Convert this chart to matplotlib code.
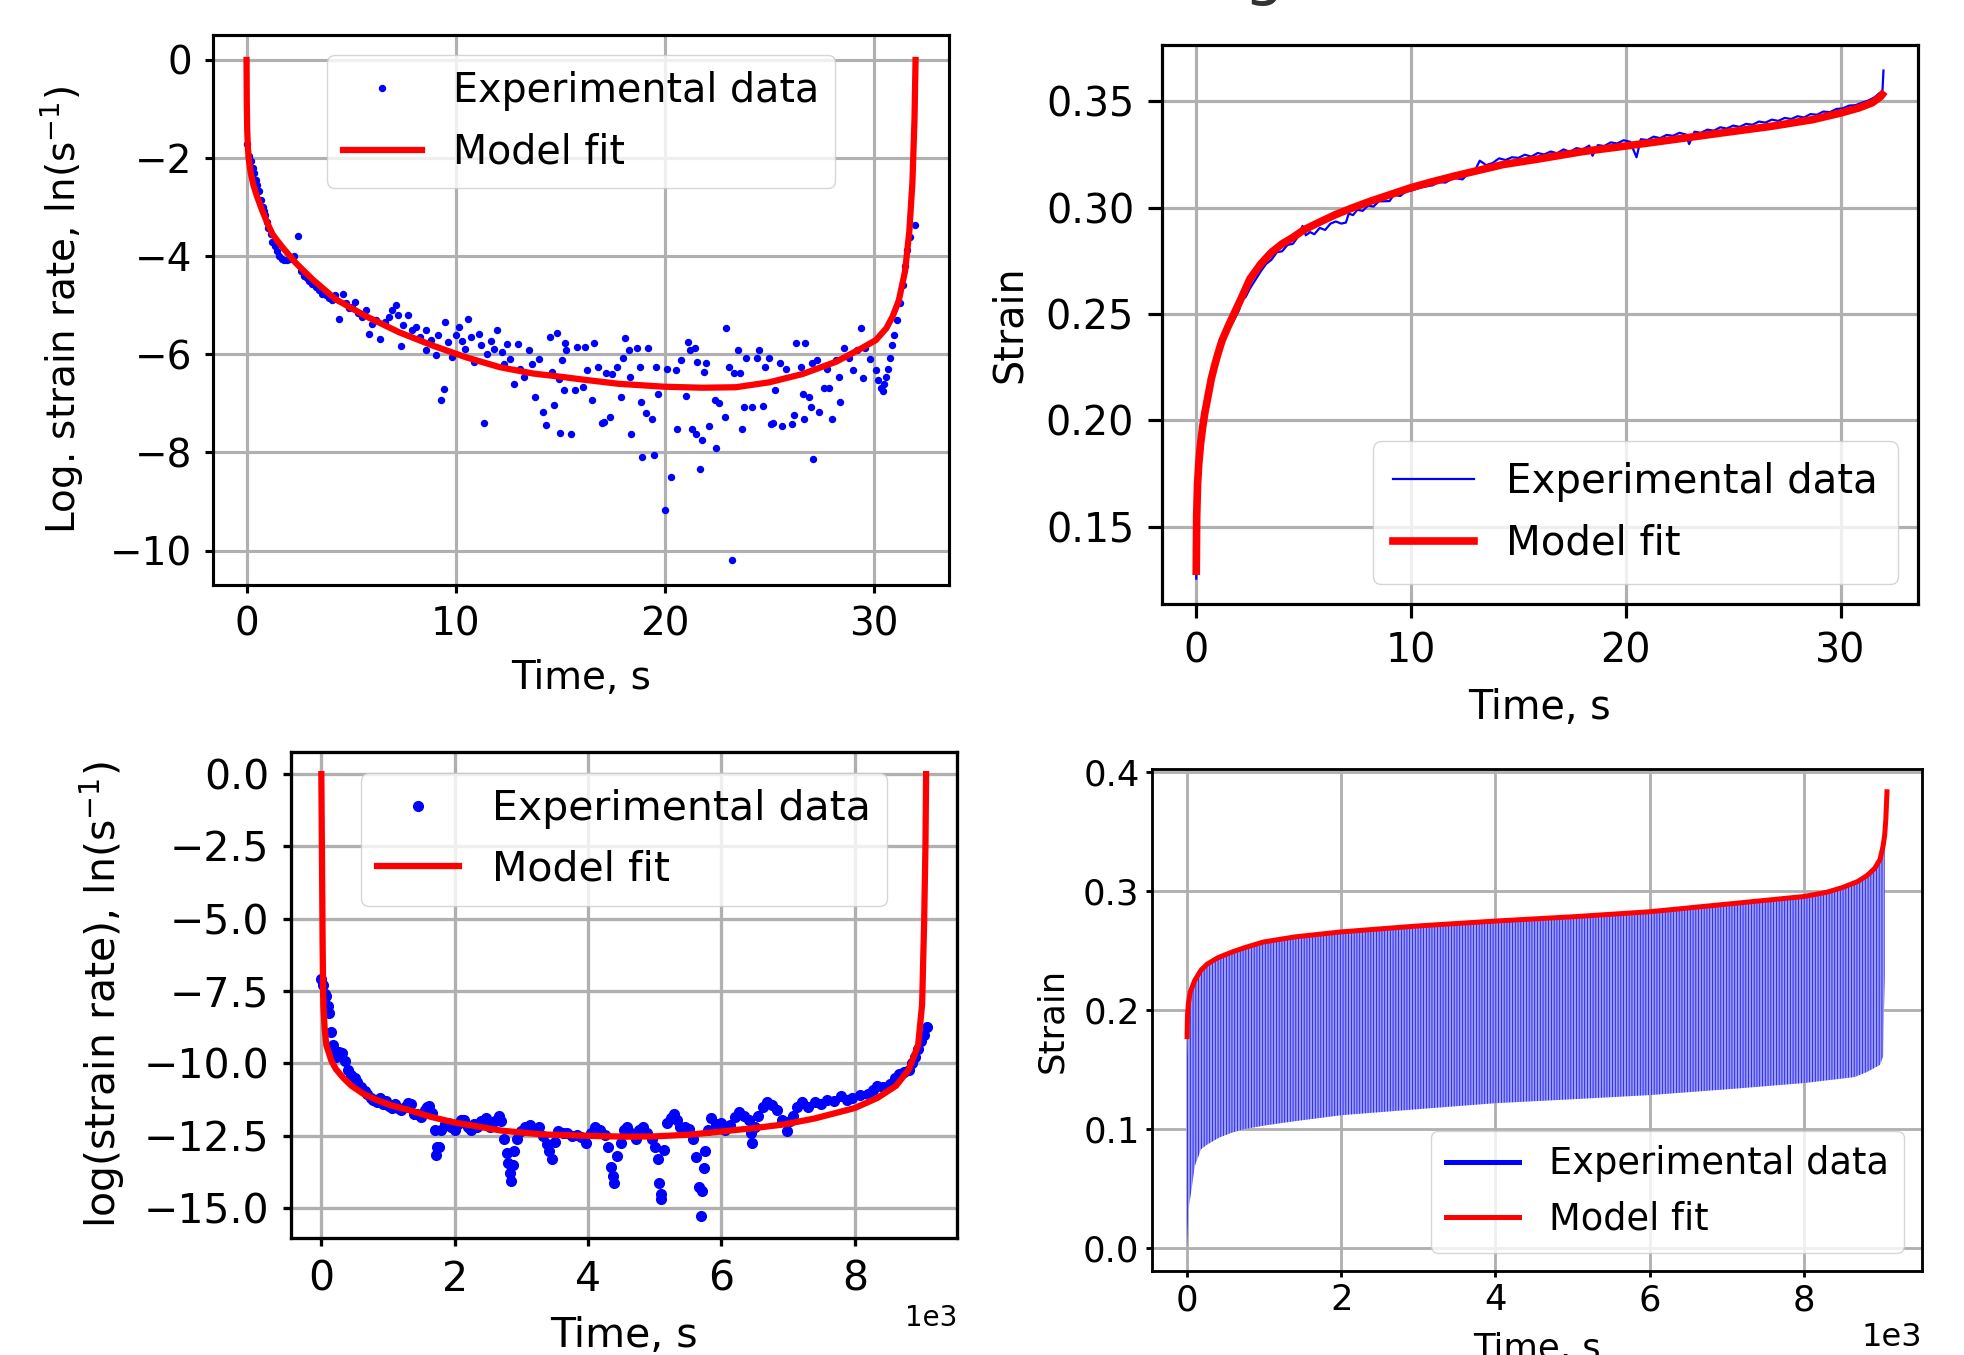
import matplotlib.pyplot as plt
from matplotlib.lines import Line2D
from matplotlib.ticker import MultipleLocator

# --- top left: log strain rate, short test (s) ---
tl_exp_t = [0.0, 0.1, 0.2, 0.3, 0.37, 0.45, 0.5, 0.6, 0.7, 0.8, 0.84, 0.9, 1.0, 1.05, 1.15, 1.24,
            1.35, 1.45, 1.56, 1.7, 1.8, 1.95, 2.1, 2.25, 2.44, 2.6, 2.75, 2.9, 3.0, 3.15, 3.3, 3.45,
            3.63, 3.8, 3.95, 4.1, 4.25, 4.43, 4.6, 4.75, 4.9, 5.06, 5.2, 5.35, 5.54, 5.7, 5.86, 6.0,
            6.2, 6.4, 6.6, 6.8, 6.95, 7.13, 7.25, 7.37, 7.5, 7.7, 7.9, 8.1, 8.3, 8.57, 8.6, 8.8,
            9.04, 9.15, 9.28, 9.44, 9.5, 9.65, 9.84, 10.0, 10.16, 10.3, 10.45, 10.6, 10.75, 10.88,
            11.1, 11.2, 11.35, 11.5, 11.67, 11.85, 12.0, 12.2, 12.3, 12.45, 12.6, 12.78, 13.0, 13.1,
            13.26, 13.5, 13.65, 13.8, 14.0, 14.2, 14.3, 14.5, 14.6, 14.7, 14.85, 14.94, 15.0, 15.1,
            15.2, 15.25, 15.3, 15.5, 15.7, 15.8, 16.1, 16.2, 16.3, 16.5, 16.6, 16.8, 17.0, 17.1,
            17.2, 17.4, 17.5, 17.7, 17.9, 18.0, 18.1, 18.3, 18.35, 18.4, 18.7, 18.8, 18.85, 18.9,
            19.1, 19.2, 19.4, 19.5, 19.6, 19.7, 20.0, 20.1, 20.3, 20.55, 20.6, 20.8, 21.0, 21.1,
            21.2, 21.3, 21.45, 21.5, 21.55, 21.7, 21.8, 21.9, 22.0, 22.1, 22.4, 22.45, 22.6, 22.9,
            22.95, 23.1, 23.2, 23.3, 23.5, 23.6, 23.7, 23.8, 23.9, 24.2, 24.4, 24.5, 24.7, 24.8,
            25.0, 25.1, 25.2, 25.3, 25.5, 25.6, 25.8, 26.1, 26.2, 26.3, 26.5, 26.6, 26.65, 26.7,
            26.9, 27.0, 27.05, 27.1, 27.3, 27.4, 27.6, 27.75, 27.85, 28.0, 28.2, 28.35, 28.4, 28.6,
            28.8, 29.0, 29.2, 29.4, 29.5, 29.6, 29.8, 30.1, 30.2, 30.35, 30.45, 30.5, 30.6, 30.7,
            30.8, 30.85, 30.95, 31.1, 31.25, 31.4, 31.5, 31.6, 31.75, 31.95]
tl_exp_y = [-1.72, -1.95, -2.05, -2.2, -2.3, -2.45, -2.55, -2.68, -2.85, -3.0, -3.08, -3.15, -3.3,
            -3.42, -3.55, -3.7, -3.8, -3.9, -4.0, -4.05, -4.08, -4.08, -4.05, -4.0, -3.59, -4.3,
            -4.4, -4.45, -4.5, -4.57, -4.62, -4.68, -4.77, -4.78, -4.85, -4.9, -4.8, -5.28, -4.77,
            -4.95, -5.05, -5.04, -4.94, -5.15, -5.24, -5.1, -5.58, -5.38, -5.3, -5.68, -5.35, -5.24,
            -5.1, -5.0, -5.2, -5.82, -5.4, -5.2, -5.5, -5.45, -5.65, -5.51, -5.92, -5.7, -6.02,
            -5.6, -6.93, -6.7, -5.34, -5.75, -6.05, -5.6, -5.45, -5.72, -5.9, -5.28, -5.65, -6.16,
            -5.58, -5.8, -7.4, -6.0, -5.72, -5.9, -5.51, -5.95, -6.2, -5.78, -6.1, -6.6, -5.78,
            -6.3, -6.46, -5.92, -6.2, -6.86, -6.1, -7.17, -7.44, -5.65, -6.35, -7.03, -5.57, -6.5,
            -7.61, -6.12, -6.73, -5.77, -5.91, -7.62, -6.73, -5.84, -6.66, -5.84, -6.32, -6.94,
            -5.77, -6.25, -7.4, -7.38, -6.39, -7.28, -6.4, -6.25, -6.87, -6.08, -5.67, -5.91,
            -6.46, -7.62, -5.88, -6.25, -6.97, -8.09, -7.2, -5.88, -7.31, -8.05, -6.25, -6.8,
            -9.17, -6.29, -8.5, -6.32, -7.52, -6.12, -6.84, -5.74, -5.91, -7.52, -5.88, -7.62,
            -6.15, -8.34, -7.75, -6.36, -6.18, -7.45, -6.94, -7.9, -7.0, -7.28, -5.47, -6.25,
            -10.19, -6.39, -5.91, -6.39, -7.52, -7.08, -6.08, -7.08, -6.08, -5.91, -7.05, -6.25,
            -6.08, -7.41, -7.4, -6.73, -6.18, -7.45, -6.29, -7.41, -7.24, -5.77, -6.25, -6.8,
            -7.31, -5.77, -6.87, -7.08, -6.18, -8.14, -6.12, -7.17, -6.69, -6.29, -6.69, -7.31,
            -6.12, -6.46, -6.97, -5.88, -6.08, -6.32, -5.91, -5.47, -6.49, -5.88, -6.1, -6.32,
            -6.53, -6.69, -6.75, -6.6, -6.46, -6.3, -6.08, -5.81, -5.6, -5.3, -4.95, -4.58, -4.2,
            -3.88, -3.6, -3.36]
tl_fit_t = [0.0, 0.01, 0.03, 0.06, 0.1, 0.2, 0.33, 0.5, 0.76, 1.0, 1.24, 1.5, 1.8, 2.36, 3.15,
            4.27, 5.7, 7.3, 8.9, 10.5, 12.1, 13.7, 15.1, 16.2, 17.8, 20.0, 21.8, 23.4, 25.0, 26.6,
            28.2, 29.4, 30.1, 30.6, 30.9, 31.2, 31.5, 31.7, 31.85, 31.95, 32.0]
tl_fit_y = [0.0, -0.8, -1.4, -1.75, -2.0, -2.3, -2.55, -2.78, -3.08, -3.33, -3.55, -3.7, -3.86,
            -4.14, -4.47, -4.88, -5.22, -5.55, -5.82, -6.06, -6.26, -6.39, -6.46, -6.52, -6.6,
            -6.66, -6.68, -6.67, -6.57, -6.4, -6.15, -5.88, -5.71, -5.47, -5.23, -4.9, -4.3, -3.5,
            -2.5, -1.2, 0.0]

# --- top right: strain, short test ---
tr_exp_t = [0.0, 0.03, 0.1, 0.2, 0.3, 0.45, 0.6, 0.8, 1.0, 1.25, 1.5, 1.75, 2.0, 2.1, 2.3, 2.5,
            2.75, 3.0, 3.25, 3.5, 3.75, 4.0, 4.25, 4.5, 4.75, 4.95, 5.1, 5.3, 5.5, 5.75, 6.0, 6.25,
            6.5, 6.75, 6.97, 7.1, 7.3, 7.5, 7.75, 8.0, 8.25, 8.5, 8.75, 9.0, 9.2, 9.5, 9.75, 10.0,
            10.3, 10.6, 11.0, 11.3, 11.6, 12.0, 12.4, 12.7, 13.0, 13.2, 13.5, 13.8, 14.1, 14.4,
            14.7, 15.0, 15.3, 15.6, 15.9, 16.2, 16.5, 16.8, 17.1, 17.4, 17.7, 18.0, 18.3, 18.45,
            18.7, 19.0, 19.3, 19.6, 19.9, 20.2, 20.5, 20.7, 21.0, 21.3, 21.6, 21.9, 22.2, 22.5,
            22.8, 22.95, 23.2, 23.5, 23.8, 24.1, 24.4, 24.7, 25.0, 25.3, 25.6, 25.9, 26.2, 26.5,
            26.8, 27.1, 27.4, 27.7, 28.0, 28.3, 28.6, 28.9, 29.2, 29.5, 29.8, 30.1, 30.4, 30.7,
            31.0, 31.3, 31.6, 31.8, 31.95, 32.0]
tr_exp_y = [0.1255, 0.158, 0.175, 0.187, 0.195, 0.205, 0.213, 0.222, 0.229, 0.236, 0.2425, 0.247,
            0.252, 0.2565, 0.258, 0.262, 0.266, 0.270, 0.2735, 0.2755, 0.279, 0.2795, 0.2825,
            0.2830, 0.2865, 0.2914, 0.2870, 0.2885, 0.2875, 0.2905, 0.2895, 0.2925, 0.2935,
            0.2925, 0.2930, 0.2972, 0.2965, 0.2990, 0.2985, 0.3010, 0.3005, 0.3030, 0.3030,
            0.3031, 0.3060, 0.3055, 0.3075, 0.3080, 0.3090, 0.3098, 0.3105, 0.3120, 0.3118,
            0.3140, 0.3133, 0.3165, 0.3180, 0.3221, 0.3200, 0.3210, 0.3232, 0.3224, 0.3237,
            0.3234, 0.3249, 0.3240, 0.3257, 0.3250, 0.3264, 0.3256, 0.3274, 0.3262, 0.3280,
            0.3274, 0.3292, 0.3244, 0.3294, 0.3290, 0.3307, 0.3302, 0.3317, 0.3310, 0.3237,
            0.3322, 0.3318, 0.3334, 0.3327, 0.3342, 0.3338, 0.3352, 0.3344, 0.3299, 0.3357,
            0.3352, 0.3367, 0.3362, 0.3378, 0.3372, 0.3386, 0.3380, 0.3394, 0.3390, 0.3405,
            0.3400, 0.3414, 0.3408, 0.3422, 0.3417, 0.3430, 0.3424, 0.3440, 0.3437, 0.3452,
            0.3449, 0.3464, 0.3467, 0.3480, 0.3482, 0.3494, 0.3504, 0.3520, 0.3538, 0.3545,
            0.3645]
tr_fit_t = [0.0, 0.02, 0.06, 0.12, 0.2, 0.3, 0.4, 0.55, 0.7, 0.85, 1.0, 1.2, 1.5, 1.8, 2.1, 2.5,
            3.0, 3.5, 4.0, 4.5, 5.0, 5.7, 6.5, 7.3, 8.1, 8.9, 10.0, 11.0, 12.0, 13.0, 14.3, 16.0,
            18.0, 20.0, 22.2, 24.5, 26.8, 28.7, 30.0, 30.85, 31.47, 31.86, 31.94]
tr_fit_y = [0.129, 0.155, 0.170, 0.180, 0.189, 0.197, 0.2035, 0.2115, 0.2195, 0.2255, 0.231,
            0.2375, 0.2445, 0.251, 0.2575, 0.2665, 0.2735, 0.279, 0.283, 0.286, 0.2895, 0.293,
            0.2968, 0.300, 0.3030, 0.3057, 0.3094, 0.3122, 0.3148, 0.3172, 0.3203, 0.3230,
            0.3264, 0.3290, 0.3320, 0.3352, 0.3383, 0.3414, 0.3445, 0.3469, 0.3493, 0.3522,
            0.3532]

# --- bottom left: log strain rate, long test (s) ---
bl_exp_t = [0, 30, 50, 75, 100, 120, 150, 170, 200, 220, 260, 310, 350, 400, 450, 500, 540, 600,
            650, 690, 740, 780, 830, 880, 920, 970, 1010, 1060, 1100, 1150, 1200, 1250, 1300,
            1340, 1390, 1440, 1500, 1550, 1590, 1620, 1660, 1700, 1720, 1740, 1770, 1800, 1850,
            1900, 1950, 2000, 2050, 2100, 2140, 2200, 2250, 2290, 2330, 2400, 2470, 2530, 2600,
            2660, 2700, 2740, 2780, 2800, 2830, 2850, 2870, 2890, 2940, 2990, 3050, 3130, 3200,
            3270, 3330, 3380, 3410, 3460, 3500, 3550, 3620, 3690, 3760, 3830, 3900, 3970, 4040,
            4110, 4180, 4250, 4300, 4350, 4370, 4390, 4430, 4490, 4540, 4580, 4650, 4720, 4770,
            4820, 4890, 4960, 5000, 5050, 5070, 5090, 5100, 5140, 5190, 5240, 5290, 5330, 5380,
            5450, 5520, 5580, 5620, 5660, 5690, 5710, 5740, 5760, 5800, 5850, 5920, 5990, 6060,
            6130, 6200, 6270, 6340, 6410, 6440, 6460, 6500, 6550, 6620, 6690, 6760, 6840, 6910,
            6980, 7030, 7070, 7140, 7210, 7300, 7400, 7500, 7590, 7690, 7790, 7880, 7960, 8080,
            8200, 8270, 8340, 8430, 8530, 8600, 8670, 8740, 8810, 8860, 8900, 8950, 9000, 9040,
            9080]
bl_exp_y = [-7.08, -7.3, -7.6, -7.68, -8.0, -8.24, -8.9, -9.37, -9.6, -9.79, -9.6, -9.65, -9.9,
            -10.21, -10.4, -10.5, -10.63, -10.8, -10.95, -11.05, -11.2, -11.25, -11.33, -11.2,
            -11.4, -11.3, -11.47, -11.55, -11.4, -11.55, -11.6, -11.5, -11.35, -11.4, -11.75,
            -11.75, -11.85, -11.6, -11.5, -11.47, -11.7, -12.3, -13.16, -12.9, -12.88, -12.3,
            -12.1, -12.04, -12.2, -12.3, -12.1, -11.95, -11.97, -12.2, -12.3, -12.1, -12.18,
            -12.0, -11.9, -12.2, -12.0, -11.83, -12.0, -12.6, -13.1, -13.44, -13.8, -14.07, -13.5,
            -13.02, -12.6, -12.32, -12.2, -12.11, -12.3, -12.18, -12.5, -12.8, -13.02, -13.3,
            -12.7, -12.32, -12.4, -12.39, -12.5, -12.46, -12.55, -12.74, -12.4, -12.18, -12.3,
            -12.46, -12.9, -13.58, -13.9, -14.14, -13.2, -12.74, -12.3, -12.18, -12.4, -12.6,
            -12.3, -12.18, -12.4, -12.6, -12.9, -13.3, -14.14, -14.5, -14.7, -13.0, -12.04, -11.9,
            -11.75, -11.95, -12.18, -12.2, -12.25, -12.6, -13.23, -14.28, -15.27, -14.42, -13.6,
            -13.02, -12.3, -11.9, -12.1, -12.04, -12.3, -12.11, -11.85, -11.69, -11.8, -11.97,
            -12.4, -12.74, -12.2, -11.83, -11.5, -11.33, -11.45, -11.6, -11.95, -12.32, -12.0,
            -11.83, -11.5, -11.33, -11.5, -11.33, -11.4, -11.26, -11.3, -11.12, -11.25, -11.19,
            -11.1, -11.05, -10.9, -10.77, -10.8, -10.7, -10.5, -10.35, -10.3, -10.21, -10.0, -9.79,
            -9.5, -9.23, -9.0, -8.74]
bl_fit_t = [0, 10, 20, 30, 50, 75, 150, 220, 330, 450, 630, 830, 1050, 1300, 1650, 2000, 2700,
            3300, 4000, 4580, 5000, 5520, 6000, 6500, 6930, 7400, 8000, 8340, 8620, 8810, 8950,
            9010, 9040, 9060, 9070]
bl_fit_y = [0.0, -3.0, -6.0, -7.96, -8.8, -9.37, -9.9, -10.2, -10.5, -10.77, -11.05, -11.26,
            -11.45, -11.6, -11.85, -12.04, -12.32, -12.45, -12.5, -12.53, -12.52, -12.46, -12.35,
            -12.23, -12.11, -11.9, -11.54, -11.19, -10.77, -10.21, -9.37, -7.96, -5.15, -2.5, 0.0]

# --- bottom right: strain, long cyclic test (envelope of the cycles) ---
br_env_t = [0, 16, 57, 100, 180, 260, 420, 580, 740, 1000, 1390, 2000, 3000, 4000, 5030, 6000,
            7050, 8000, 8500, 8660, 8820, 8990, 9030, 9050]
br_env_top = [0.16, 0.203, 0.218, 0.224, 0.232, 0.2375, 0.2435, 0.2477, 0.251, 0.2562, 0.2600,
              0.2647, 0.2697, 0.2738, 0.2775, 0.2816, 0.2883, 0.2944, 0.3015, 0.3060, 0.312,
              0.325, 0.336, 0.343]
br_env_low = [0.0, 0.032, 0.049, 0.069, 0.083, 0.087, 0.093, 0.097, 0.100, 0.103, 0.1066, 0.1117,
              0.1168, 0.1218, 0.1252, 0.1286, 0.1337, 0.1387, 0.1425, 0.1438, 0.148, 0.154,
              0.161, 0.23]
br_fit_t = [0, 5, 16, 40, 100, 180, 260, 400, 580, 750, 990, 1400, 2000, 3000, 4000, 5030, 6000,
            7050, 8000, 8300, 8500, 8700, 8820, 8920, 8990, 9030, 9050, 9065, 9080]
br_fit_y = [0.1777, 0.195, 0.2047, 0.215, 0.225, 0.2335, 0.2386, 0.244, 0.2487, 0.2525, 0.2572,
            0.2615, 0.2657, 0.2707, 0.2748, 0.2785, 0.2826, 0.2893, 0.2954, 0.299, 0.3029, 0.308,
            0.313, 0.319, 0.3266, 0.338, 0.3469, 0.360, 0.3834]


def style(ax, fs, length=None, pad=None):
    s = fs / 10.0
    ax.grid(True, color="#b0b0b0", linewidth=0.8 * s)
    ax.set_axisbelow(True)
    for sp in ax.spines.values():
        sp.set_linewidth(0.8 * s)
    ax.tick_params(labelsize=fs, length=length or 3.5 * s, width=0.8 * s, pad=pad or 3.5 * s)
    ax.xaxis.labelpad = 4 * s
    ax.yaxis.labelpad = 4 * s


fig = plt.figure(figsize=(19.64, 13.55), dpi=100)

# top left
fs = 28
ax1 = fig.add_axes([0.1085, 0.5683, 0.3747, 0.4059])
ax1.plot(tl_exp_t, tl_exp_y, "o", color="blue", markersize=4.3, label="Experimental data")
ax1.plot(tl_fit_t, tl_fit_y, color="red", linewidth=4.5, label="Model fit")
style(ax1, fs, length=6, pad=9)
ax1.set_xlabel("Time, s", fontsize=fs)
ax1.set_ylabel("Log. strain rate, ln(s$^{-1}$)", fontsize=fs, labelpad=18)
ax1.legend(loc="upper center", fontsize=28.5, labelspacing=0.55)

# top right
fs = 28.5
ax2 = fig.add_axes([0.5916, 0.5542, 0.3849, 0.4125])
ax2.plot(tr_exp_t, tr_exp_y, color="blue", linewidth=1.6, label="Experimental data")
ax2.plot(tr_fit_t, tr_fit_y, color="red", linewidth=5.5, label="Model fit")
style(ax2, fs)
ax2.set_xlabel("Time, s", fontsize=fs)
ax2.set_ylabel("Strain", fontsize=fs)
ax2.legend(loc="lower right", fontsize=29, labelspacing=0.55, borderpad=0.5)

# bottom left
fs = 29.5
ax3 = fig.add_axes([0.1482, 0.0863, 0.3391, 0.3587])
ax3.plot(bl_exp_t, bl_exp_y, "o", color="blue", markersize=7, label="Experimental data")
ax3.plot(bl_fit_t, bl_fit_y, color="red", linewidth=4.5, label="Model fit")
style(ax3, fs, length=6, pad=9.5)
ax3.yaxis.set_major_locator(MultipleLocator(2.5))
ax3.ticklabel_format(axis="x", style="sci", scilimits=(3, 3))
ax3.xaxis.get_offset_text().set_fontsize(20)
ax3.set_xlabel("Time, s", fontsize=fs)
ax3.set_ylabel("log(strain rate), ln(s$^{-1}$)", fontsize=fs)
ax3.legend(loc="upper center", fontsize=fs)

# bottom right
fs = 25.5
plt.rcParams["hatch.linewidth"] = 0.5
ax4 = fig.add_axes([0.5866, 0.062, 0.392, 0.3705])
ax4.fill_between(br_env_t, br_env_low, br_env_top, facecolor="#9c9cf0", edgecolor="blue",
                 hatch="||||||", linewidth=0)
ax4.plot(br_fit_t, br_fit_y, color="red", linewidth=3.6)
style(ax4, fs, length=4.5, pad=4.5)
ax4.ticklabel_format(axis="x", style="sci", scilimits=(3, 3))
ax4.xaxis.get_offset_text().set_fontsize(23)
ax4.set_xlabel("Time, s", fontsize=fs)
ax4.set_ylabel("Strain", fontsize=fs)
handles = [Line2D([], [], color="blue", linewidth=3.6),
           Line2D([], [], color="red", linewidth=3.6)]
ax4.legend(handles, ["Experimental data", "Model fit"], loc="lower right", fontsize=26.5)

# title of the original page, cut off by the top edge
fig.text(0.654, 1 + 7 / 1355, "Strain rate and strain, model fitting", ha="right",
         va="baseline", fontsize=46, color="#333333")

fig.savefig("out.png", dpi=100)
